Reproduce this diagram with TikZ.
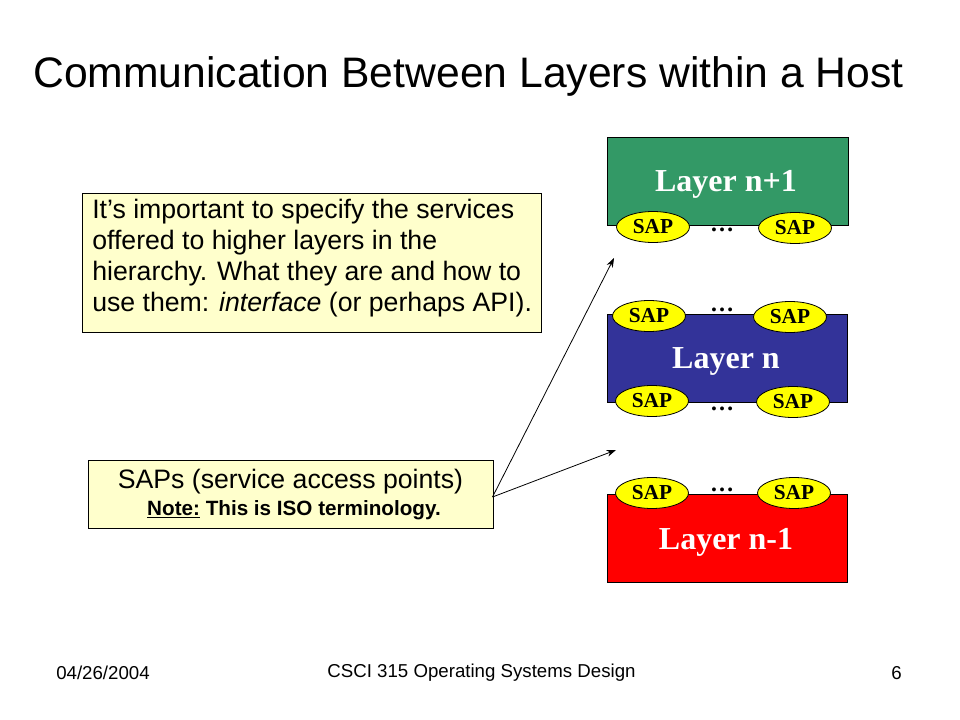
\documentclass[tikz,border=0pt]{standalone}
\usepackage{fontspec}
\setmainfont{Liberation Sans}
\newfontfamily\timesb{Liberation Serif}
\usetikzlibrary{shapes.geometric,arrows.meta}
\definecolor{lgreen}{HTML}{339966}
\definecolor{lblue}{HTML}{333399}
\definecolor{lred}{HTML}{FF0000}
\definecolor{sapy}{HTML}{FFFF00}
\definecolor{notey}{HTML}{FFFFCC}
\tikzset{
  layerbox/.style={draw=black, line width=0.6pt, minimum width=240*0.75pt, minimum height=88*0.75pt, inner sep=0pt},
  layerlabel/.style={font=\timesb\bfseries\fontsize{24}{26}\selectfont, text=white, inner sep=0pt},
  sap/.style={ellipse, draw=black, line width=0.6pt, fill=sapy, minimum width=73*0.75pt, minimum height=31*0.75pt, inner sep=0pt,
     font=\timesb\bfseries\fontsize{16}{17}\selectfont},
  dotsl/.style={font=\timesb\bfseries\fontsize{18}{18}\selectfont, inner sep=0pt, anchor=base},
  notebox/.style={draw=black, line width=0.6pt, fill=notey, inner sep=0pt},
  arr/.style={-{Stealth[length=7pt,width=5pt]}, line width=0.6pt},
  foot/.style={font=\fontsize{14}{16}\selectfont, inner sep=0pt}
}
\begin{document}
\begin{tikzpicture}[x=0.75pt,y=-0.75pt]
\useasboundingbox[fill=white] (0,0) rectangle (960,720);
% title
\node[anchor=base west, inner sep=0pt, font=\fontsize{32}{36}\selectfont] (title) at (33,88) {Communication Between Layers within a Host};
% layers
\node[layerbox, fill=lgreen, anchor=north west, minimum width=241*0.75pt] (L1) at (606.5,137) {};
\node[layerlabel] (L1t) at (726,184) {Layer n+1};
\node[sap] (s1a) at (653,227) {SAP};
\node[sap] (s1b) at (795,228) {SAP};
\node[dotsl] (d1) at (722,232) {\dots};

\node[layerbox, fill=lblue, anchor=north west] (L2) at (607,314) {};
\node[layerlabel] (L2t) at (726,361) {Layer n};
\node[sap] (s2a) at (649,316) {SAP};
\node[sap] (s2b) at (790,317) {SAP};
\node[sap] (s2c) at (652,401) {SAP};
\node[sap] (s2d) at (793,402) {SAP};
\node[dotsl] (d2) at (722,311) {\dots};
\node[dotsl] (d3) at (722,410) {\dots};

\node[layerbox, fill=lred, anchor=north west] (L3) at (607,494) {};
\node[layerlabel] (L3t) at (726,542) {Layer n-1};
\node[sap] (s3a) at (652,493) {SAP};
\node[sap] (s3b) at (794,493) {SAP};
\node[dotsl] (d4) at (722,491) {\dots};

% note boxes
\node[notebox, anchor=north west, minimum width=459*0.75pt, minimum height=139*0.75pt] (N1) at (82,193) {};
\node[anchor=north west, inner sep=0pt, align=left, font=\fontsize{20}{23.3}\selectfont] (N1t) at (92,199)
  {It’s important to specify the services\\offered to higher layers in the\\hierarchy. What they are and how to\\use them: \textit{interface} (or perhaps API).};

\node[notebox, anchor=north west, minimum width=405*0.75pt, minimum height=68*0.75pt] (N2) at (88,460) {};
\node[inner sep=0pt, font=\fontsize{20}{22}\selectfont] (N2a) at (290.5,482) {SAPs (service access points)};
\node[inner sep=0pt, font=\bfseries\fontsize{15.5}{17}\selectfont] (N2b) at (294,510) {\underline{Note:} This is ISO terminology.};

\coordinate (a0) at (492.5,497);
\coordinate (a1) at (614,258);
\coordinate (a2) at (616,450);
\draw[arr] (a0) -- (a1);
\draw[arr] (a0) -- (a2);

% footer
\node[foot, anchor=west] (f1) at (56,673) {04/26/2004};
\node[foot] (f2) at (481.5,673) {CSCI 315 Operating Systems Design};
\node[foot, anchor=east] (f3) at (902,673) {6};
\end{tikzpicture}
\end{document}
